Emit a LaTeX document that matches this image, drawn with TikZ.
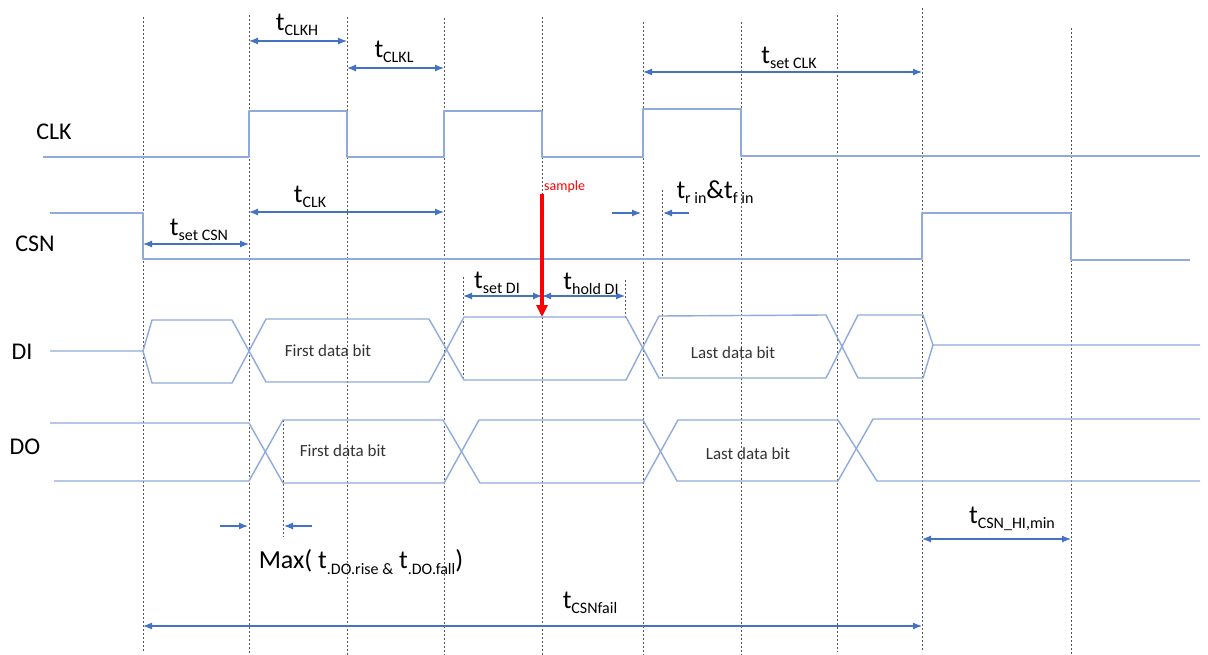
\documentclass[tikz,border=0pt]{standalone}
\usepackage{fontspec}
\setmainfont{Carlito}
\usetikzlibrary{arrows.meta}
\definecolor{wavec}{HTML}{8FAADC}
\definecolor{dimc}{HTML}{4472C4}
\definecolor{gridc}{HTML}{555555}
\newcommand\lowsub[1]{\raisebox{-0.45ex}{\fontsize{16}{16}\selectfont #1}}
\tikzset{
  wave/.style={draw=wavec, line width=1.4pt, line join=round},
  gridline/.style={draw=gridc, line width=0.7pt, dash pattern=on 2pt off 2pt},
  dimarrow/.style={draw=dimc, line width=1.2pt, {Latex[length=9pt,width=7pt]}-{Latex[length=9pt,width=7pt]}},
  onearrow/.style={draw=dimc, line width=1.2pt, -{Latex[length=9pt,width=7pt]}},
  lbl/.style={font=\fontsize{26}{30}\selectfont, inner sep=0pt},
  sig/.style={font=\fontsize{24}{28}\selectfont, inner sep=0pt},
  bit/.style={font=\fontsize{17}{19}\selectfont, text=black!80, inner sep=0pt},
}
\begin{document}
\begin{tikzpicture}[x=1pt,y=-1pt]
\useasboundingbox[fill=white] (0,0) rectangle (1208,655);

% vertical dashed guide lines
\foreach \x/\t/\b in {143/17/652,249/15/655,347/17/655,444/18/655,542/17/655,643/22/655,741/22/655,837/15/652,922/8/650,1071/28/655}
  \draw[gridline] (\x,\t) -- (\x,\b);
\draw[gridline] (463,277) -- (463,380);
\draw[gridline] (625,280) -- (625,318);
\draw[gridline] (662,190) -- (662,378);
\draw[gridline] (283,420) -- (283,537);

% signal names
\node[sig] (nclk) at (54,132) {CLK};
\node[sig] (ncsn) at (35,244) {CSN};
\node[sig] (ndi) at (22,352) {DI};
\node[sig] (ndo) at (25,447) {DO};

% CLK
\draw[wave] (43,157) -- (249,157) -- (249,111) -- (347,111) -- (347,157) -- (444,157) -- (444,111) -- (542,111) -- (542,157) -- (643,157) -- (643,109) -- (741,109) -- (741,156) -- (1200,156);

% CSN
\draw[wave] (50,213) -- (143,213) -- (143,259) -- (922,259) -- (922,213) -- (1071,213) -- (1071,260) -- (1190,260);

% DI
\draw[wave] (50,351) -- (143,351) -- (152,320) -- (232,320) -- (266,382) -- (429,382) -- (464,317) -- (626,317) -- (659,378) -- (826,378) -- (858,315) -- (923,315) -- (933,345) -- (1200,345);
\draw[wave] (143,351) -- (152,383) -- (232,383) -- (266,319) -- (429,319) -- (464,380) -- (626,380) -- (659,316) -- (826,315) -- (858,378) -- (923,378) -- (933,345);
\node[bit] (difirst) at (328,351) {First data bit};
\node[bit] (dilast) at (733,353) {Last data bit};

% DO
\draw[wave] (50,423) -- (249,423) -- (283,483) -- (444,483) -- (479,420) -- (643,420) -- (677,481) -- (838,481) -- (873,419) -- (1200,419);
\draw[wave] (54,481) -- (249,481) -- (283,420) -- (443,420) -- (480,483) -- (643,483) -- (678,420) -- (838,420) -- (877,481) -- (1200,481);
\node[bit] (dofirst) at (343,451) {First data bit};
\node[bit] (dolast) at (748,454) {Last data bit};

% dimension arrows
\coordinate (clkhA) at (249,41);  \coordinate (clkhB) at (347,41);
\coordinate (clklA) at (347,68);  \coordinate (clklB) at (444,68);
\coordinate (setclkA) at (643,72); \coordinate (setclkB) at (922,72);
\coordinate (clkA) at (249,212);  \coordinate (clkB) at (444,212);
\coordinate (csnA) at (143,244);  \coordinate (csnB) at (249,244);
\coordinate (sdiA) at (463,296);  \coordinate (sdiB) at (542,296);
\coordinate (hdiA) at (542,296);  \coordinate (hdiB) at (625,296);
\coordinate (hiA) at (922,539);   \coordinate (hiB) at (1071,539);
\coordinate (failA) at (143,626); \coordinate (failB) at (922,626);
\draw[dimarrow] (clkhA) -- (clkhB);
\draw[dimarrow] (clklA) -- (clklB);
\draw[dimarrow] (setclkA) -- (setclkB);
\draw[dimarrow] (clkA) -- (clkB);
\draw[dimarrow] (csnA) -- (csnB);
\draw[dimarrow] (sdiA) -- (sdiB);
\draw[dimarrow] (hdiA) -- (hdiB);
\draw[dimarrow] (hiA) -- (hiB);
\draw[dimarrow] (failA) -- (failB);

\coordinate (rA) at (612,213); \coordinate (rB) at (641,213);
\coordinate (fA) at (689,213); \coordinate (fB) at (663,213);
\draw[onearrow] (rA) -- (rB);
\draw[onearrow] (fA) -- (fB);
\coordinate (mA) at (220,526); \coordinate (mB) at (248,526);
\coordinate (nA) at (312,526); \coordinate (nB) at (284,526);
\draw[onearrow] (mA) -- (mB);
\draw[onearrow] (nA) -- (nB);

% labels
\node[lbl] (lclkh) at (297,25) {t\lowsub{CLKH}};
\node[lbl] (lclkl) at (394,52) {t\lowsub{CLKL}};
\node[lbl] (lsetclk) at (789,58) {t\lowsub{set CLK}};
\node[lbl] (lclk) at (310,197) {t\lowsub{CLK}};
\node[lbl] (lsetcsn) at (199,230) {t\lowsub{set CSN}};
\node[lbl] (lsetdi) at (497,283) {t\lowsub{set DI}};
\node[lbl] (lholddi) at (591,284) {t\lowsub{hold DI}};
\node[lbl] (lrf) at (715,192) {t\lowsub{r in}\&t\lowsub{f in}};
\node[lbl, font=\fontsize{26}{30}\selectfont] (lmax) at (361,562) {Max( t\lowsub{.DO.rise \&} t\lowsub{.DO.fall})};
\node[lbl] (lhi) at (1012,519) {t\lowsub{CSN\_HI,min}};
\node[lbl] (lfail) at (590,603) {t\lowsub{CSNfail}};

% sample arrow
\coordinate (smpA) at (542,194); \coordinate (smpB) at (542,317);
\draw[draw=red, line width=3.5pt, -{Triangle[length=12pt,width=11pt]}] (smpA) -- (smpB);
\node[inner sep=0pt, anchor=west, text=red, font=\fontsize{14}{15}\selectfont] (lsample) at (544,187) {sample};
\end{tikzpicture}
\end{document}
